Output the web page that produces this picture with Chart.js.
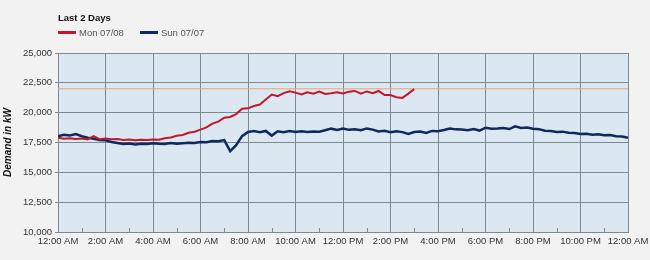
<!DOCTYPE html>
<html>
<head>
<meta charset="utf-8">
<script src="https://cdn.jsdelivr.net/npm/chart.js@4.4.1/dist/chart.umd.min.js"></script>
<style>
  body { margin: 0; background: #f2f2f2; font-family: "Liberation Sans", Arial, sans-serif; }
  #wrap { position: relative; width: 650px; height: 260px; }
  #title { position: absolute; left: 58px; top: 12px; font-size: 9.5px; font-weight: bold; color: #111; }
  #legend { position: absolute; left: 58px; top: 27px; font-size: 9.5px; color: #555; white-space: nowrap; }
  #legend span.item { display: inline-block; margin-right: 16px; }
  #legend span.sw { display: inline-block; width: 18px; height: 3px; vertical-align: middle; margin-right: 3px; position: relative; top: -1px; }
  canvas { position: absolute; left: 0; top: 0; }
</style>
</head>
<body>
<div id="wrap">
  <canvas id="demand-chart" width="650" height="260"></canvas>
  <div id="title">Last 2 Days</div>
  <div id="legend"></div>
</div>
<script>
// demand in kW, one reading every 15 minutes from midnight
var monLabel = 'Mon 07/08';
var monKw = [
  17890, 17820, 17860, 17790, 17830, 17760, 18030, 17780,
  17830, 17770, 17790, 17720, 17750, 17690, 17740, 17710,
  17760, 17730, 17850, 17920, 18060, 18130, 18310, 18400,
  18580, 18760, 19080, 19250, 19580, 19640, 19880, 20330,
  20360, 20560, 20680, 21100, 21520, 21380, 21640, 21800,
  21680, 21520, 21700, 21580, 21760, 21560, 21620, 21700,
  21600, 21760, 21820, 21600, 21780, 21640, 21820, 21480,
  21480, 21300, 21240, 21600, 21970
];
var sunLabel = 'Sun 07/07';
var sunKw = [
  18030, 18150, 18090, 18200, 18020, 17900, 17820, 17700,
  17690, 17540, 17460, 17380, 17420, 17330, 17400, 17370,
  17440, 17400, 17380, 17450, 17390, 17430, 17470, 17450,
  17540, 17520, 17620, 17610, 17700, 16780, 17280, 18030,
  18380, 18460, 18360, 18470, 18080, 18440, 18370, 18460,
  18380, 18450, 18390, 18430, 18400, 18530, 18660, 18560,
  18680, 18560, 18600, 18530, 18680, 18580, 18420, 18490,
  18360, 18450, 18370, 18220, 18380, 18420, 18300, 18470,
  18440, 18550, 18680, 18600, 18590, 18530, 18620, 18500,
  18740, 18660, 18680, 18720, 18630, 18860, 18720, 18750,
  18650, 18620, 18480, 18460, 18390, 18410, 18310, 18300,
  18220, 18230, 18150, 18200, 18110, 18130, 18030, 18000,
  17890
];
var limitKw = [22000, 22000];
var xTickLabels = ['12:00 AM', '2:00 AM', '4:00 AM', '6:00 AM', '8:00 AM', '10:00 AM',
  '12:00 PM', '2:00 PM', '4:00 PM', '6:00 PM', '8:00 PM', '10:00 PM', '12:00 AM'];
var yTicks = [10000, 12500, 15000, 17500, 20000, 22500, 25000];

var monColor = '#c1182c';
var sunColor = '#0e2a5c';
var gridColor = '#7b8a91';

function toPoints(arr) {
  return arr.map(function(v, i) { return { x: i * 0.25, y: v }; });
}

document.getElementById('legend').innerHTML =
  '<span class="item"><span class="sw" style="background:' + monColor + '"></span>' + monLabel + '</span>' +
  '<span class="item"><span class="sw" style="background:' + sunColor + '"></span>' + sunLabel + '</span>';

var plotBg = {
  id: 'plotBg',
  beforeDraw: function(chart) {
    var a = chart.chartArea, ctx = chart.ctx;
    ctx.save();
    ctx.fillStyle = '#dce8f1';
    ctx.fillRect(a.left, a.top, a.right - a.left, a.bottom - a.top);
    ctx.restore();
  }
};

// short marks on the odd hours along the bottom of the plot
var minorTicks = {
  id: 'minorTicks',
  afterDatasetsDraw: function(chart) {
    var xs = chart.scales.x, a = chart.chartArea, ctx = chart.ctx;
    ctx.save();
    ctx.strokeStyle = gridColor;
    ctx.lineWidth = 1;
    for (var h = 1; h < 24; h += 2) {
      var px = Math.round(xs.getPixelForValue(h)) + 0.5;
      ctx.beginPath();
      ctx.moveTo(px, a.bottom);
      ctx.lineTo(px, a.bottom - 4);
      ctx.stroke();
    }
    ctx.restore();
  }
};

new Chart(document.getElementById('demand-chart'), {
  type: 'line',
  data: {
    datasets: [
      { label: 'limit', data: limitKw.map(function(v, i) { return { x: i * 24, y: v }; }),
        borderColor: '#f0a070', borderWidth: 1, pointRadius: 0, order: 3 },
      { label: sunLabel, data: toPoints(sunKw), borderColor: sunColor, borderWidth: 2.5,
        pointRadius: 0, tension: 0, order: 2 },
      { label: monLabel, data: toPoints(monKw), borderColor: monColor, borderWidth: 2,
        pointRadius: 0, tension: 0, order: 1 }
    ]
  },
  options: {
    responsive: false,
    animation: false,
    layout: { padding: { top: 53, right: 22, left: 0, bottom: 0 } },
    plugins: { legend: { display: false }, tooltip: { enabled: false } },
    scales: {
      x: {
        type: 'linear', min: 0, max: 24,
        afterFit: function(s) { s.height = 28; s.paddingRight = 0; s.paddingLeft = 0; },
        ticks: {
          stepSize: 2, autoSkip: false, maxRotation: 0, padding: 4,
          color: '#333', font: { family: 'Liberation Sans', size: 9.5 },
          callback: function(v) { return xTickLabels[v / 2]; }
        },
        grid: { color: gridColor, lineWidth: 1, tickLength: 0 },
        border: { color: gridColor }
      },
      y: {
        min: 10000, max: 25000,
        afterFit: function(s) { s.width = 58; },
        afterBuildTicks: function(s) { s.ticks = yTicks.map(function(v) { return { value: v }; }); },
        ticks: {
          padding: 3, color: '#333', font: { family: 'Liberation Sans', size: 9.5 },
          callback: function(v) { return v.toLocaleString('en-US'); }
        },
        grid: { color: gridColor, lineWidth: 1, tickLength: 3 },
        border: { color: gridColor },
        title: {
          display: true, text: 'Demand in kW', color: '#111', padding: { top: 2, bottom: 0 },
          font: { family: 'Liberation Sans', size: 10, weight: 'bold', style: 'italic' }
        }
      }
    }
  },
  plugins: [plotBg, minorTicks]
});
</script>
</body>
</html>
